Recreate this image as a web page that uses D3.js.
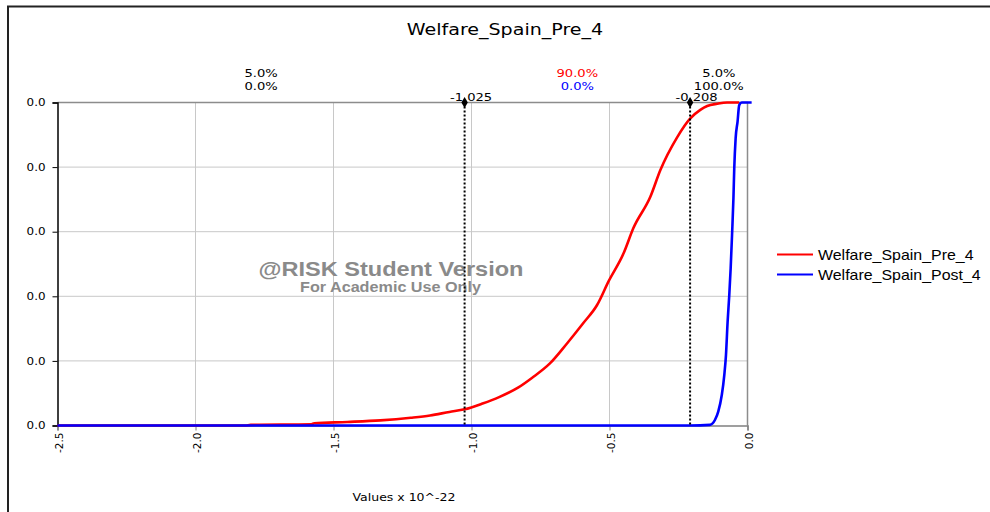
<!DOCTYPE html>
<html><head><meta charset="utf-8">
<script src="https://cdn.jsdelivr.net/npm/d3@7"></script>
<style>body{margin:0;background:#fff;overflow:hidden}</style>
</head><body><svg id="c" width="990" height="512"></svg>
<script>
const chartTitle = "Welfare_Spain_Pre_4";
const seriesNames = ["Welfare_Spain_Pre_4", "Welfare_Spain_Post_4"];
const seriesColors = ["#ff0000", "#0000ff"];
const preValues = [-2.5,-1.82,-1.80,-1.58,-1.57,-1.45,-1.33,-1.22,-1.15,-1.08,-1.025,-0.96,-0.90,-0.83,-0.78,-0.715,-0.654,-0.594,-0.545,-0.503,-0.449,-0.413,-0.352,-0.316,-0.255,-0.208,-0.171,-0.146,-0.11,-0.074,-0.03];
const preProbs  = [0,0,0.002,0.004,0.007,0.011,0.016,0.024,0.031,0.042,0.05,0.068,0.088,0.118,0.148,0.193,0.254,0.318,0.373,0.447,0.533,0.612,0.708,0.79,0.892,0.95,0.977,0.989,0.996,1.0,1.0];
const postValues = [-2.5,-0.208,-0.136,-0.118,-0.106,-0.093,-0.084,-0.078,-0.072,-0.066,-0.061,-0.056,-0.051,-0.048,-0.043,-0.036,-0.030,-0.021,0.015];
const postProbs  = [0,0,0.002,0.017,0.043,0.095,0.157,0.218,0.322,0.404,0.487,0.59,0.703,0.796,0.889,0.941,0.992,1.0,1.0];
const xTicks = [-2.5,-2.0,-1.5,-1.0,-0.5,0.0];
const xTickLabels = ["-2.5","-2.0","-1.5","-1.0","-0.5","0.0"];
const yTicks = [0,0.2,0.4,0.6,0.8,1.0];
const yTickLabels = ["0.0","0.0","0.0","0.0","0.0","0.0"];
const markerValues = [-1.025,-0.208];
const markerLabels = ["-1.025","-0.208"];
const regionTop = ["5.0%","90.0%","5.0%"];
const regionBottom = ["0.0%","0.0%","100.0%"];
const regionTopColors = ["#000000","#ff0000","#000000"];
const regionBottomColors = ["#000000","#0000ff","#000000"];
const axisTitle = "Values x 10^-22";
const watermark = ["@RISK Student Version","For Academic Use Only"];

const K = 1.19; // horizontal stretch of text
function stretch(sel, k){
  sel.each(function(){
    const w = this.getComputedTextLength();
    this.setAttribute("textLength", w*k);
    this.setAttribute("lengthAdjust","spacingAndGlyphs");
  });
}
function fixLen(sel, w){
  sel.attr("textLength", w).attr("lengthAdjust","spacingAndGlyphs");
}

const svg = d3.select("#c");
const L = 57.5, R = 747.5, T = 102.5, B = 425.5;
const x = d3.scaleLinear().domain([-2.5, 0]).range([L, R]);
const y = d3.scaleLinear().domain([0, 1]).range([B, T]);
const F = "'DejaVu Sans', Verdana, sans-serif";

// frame
svg.append("path").attr("d", `M8,512 L8,6.5 L990,6.5`).attr("fill","none").attr("stroke","#222").attr("stroke-width",2);

// title
svg.append("text").attr("x",505).attr("y",35).attr("text-anchor","middle")
  .style("font-family",F).style("font-size","16px").attr("fill","#000").text(chartTitle).call(stretch, K);

// gridlines
const g = svg.append("g");
g.selectAll(".vg").data(xTicks.slice(1,-1)).enter().append("line")
  .attr("x1",d=>x(d)).attr("x2",d=>x(d)).attr("y1",T).attr("y2",B)
  .attr("stroke","#c8c8c8").attr("stroke-width",1);
g.selectAll(".hg").data(yTicks.slice(1,-1)).enter().append("line")
  .attr("x1",L).attr("x2",R).attr("y1",d=>y(d)).attr("y2",d=>y(d))
  .attr("stroke","#c8c8c8").attr("stroke-width",1);
// plot border top/right
svg.append("path").attr("d",`M${L},${T} L${R},${T} L${R},${B}`).attr("fill","none").attr("stroke","#8c8c8c").attr("stroke-width",1.5);

// x axis
const xAxis = svg.append("g").attr("transform",`translate(0,${B})`)
  .call(d3.axisBottom(x).tickValues(xTicks).tickSize(5).tickFormat((d,i)=>xTickLabels[i]));
xAxis.select(".domain").attr("stroke","#808080").attr("stroke-width",1.5);
xAxis.selectAll(".tick line").attr("stroke","#808080");
xAxis.selectAll(".tick text")
  .style("font-family",F).style("font-size","10.5px").attr("fill","#000")
  .attr("transform","rotate(-90)").attr("text-anchor","end")
  .attr("x",-7).attr("y",1).attr("dy","0.35em");

// y axis
const yAxis = svg.append("g").attr("transform",`translate(${L},0)`)
  .call(d3.axisLeft(y).tickValues(yTicks).tickSize(5).tickPadding(7).tickFormat((d,i)=>yTickLabels[i]));
yAxis.select(".domain").attr("stroke","#000").attr("stroke-width",1.5);
yAxis.selectAll(".tick line").attr("stroke","#000");
yAxis.selectAll(".tick text").style("font-family",F).style("font-size","10px").attr("fill","#000").call(stretch, K);

// watermark
svg.append("text").attr("x",391).attr("y",275.5).attr("text-anchor","middle")
  .style("font-family","'Liberation Sans', Arial, sans-serif").style("font-weight","bold").style("font-size","20px")
  .attr("fill","#8a8a8a").text(watermark[0]).call(fixLen, 265);
svg.append("text").attr("x",390.5).attr("y",292).attr("text-anchor","middle")
  .style("font-family","'Liberation Sans', Arial, sans-serif").style("font-weight","bold").style("font-size","14px")
  .attr("fill","#8a8a8a").text(watermark[1]).call(fixLen, 181);

// curves
const line = d3.line().x(d=>x(d[0])).y(d=>y(d[1])).curve(d3.curveMonotoneX);
const pre = preValues.map((v,i)=>[v, preProbs[i]]);
const post = postValues.map((v,i)=>[v, postProbs[i]]);
svg.append("path").datum(pre).attr("d",line).attr("fill","none").attr("stroke",seriesColors[0]).attr("stroke-width",2.6).attr("stroke-linejoin","round");
svg.append("path").datum(post).attr("d",line).attr("fill","none").attr("stroke",seriesColors[1]).attr("stroke-width",2.6).attr("stroke-linejoin","round");

// markers
svg.selectAll(".mk").data(markerValues).enter().append("line")
  .attr("x1",d=>x(d)).attr("x2",d=>x(d)).attr("y1",T).attr("y2",B)
  .attr("stroke","#000").attr("stroke-width",2).attr("stroke-dasharray","2,2");
svg.selectAll(".dm").data(markerValues).enter().append("path")
  .attr("transform",d=>`translate(${x(d)},${T})`)
  .attr("d", d3.symbol().type(d3.symbolDiamond).size(36)).attr("fill","#000");
svg.selectAll(".ml").data(markerValues).enter().append("text")
  .attr("x",d=>x(d)+6.5).attr("y",100.5).attr("text-anchor","middle")
  .style("font-family",F).style("font-size","11px").attr("fill","#000")
  .text((d,i)=>markerLabels[i]).call(stretch, K);

// region percentages
const bounds = [-2.5, ...markerValues, 0];
const centers = regionTop.map((d,i)=>(x(bounds[i])+x(bounds[i+1]))/2);
svg.selectAll(".rt").data(regionTop).enter().append("text")
  .attr("x",(d,i)=>centers[i]).attr("y",76.5).attr("text-anchor","middle")
  .style("font-family",F).style("font-size","11px").attr("fill",(d,i)=>regionTopColors[i]).text(d=>d).call(stretch, K);
svg.selectAll(".rb").data(regionBottom).enter().append("text")
  .attr("x",(d,i)=>centers[i]).attr("y",90).attr("text-anchor","middle")
  .style("font-family",F).style("font-size","11px").attr("fill",(d,i)=>regionBottomColors[i]).text(d=>d).call(stretch, K);

// axis title
svg.append("text").attr("x",404).attr("y",501).attr("text-anchor","middle")
  .style("font-family",F).style("font-size","10.5px").attr("fill","#000").text(axisTitle).call(stretch, K);

// legend
const lg = svg.append("g");
seriesNames.forEach((n,i)=>{
  const yy = 254.5 + i*20;
  lg.append("line").attr("x1",777).attr("x2",813).attr("y1",yy).attr("y2",yy).attr("stroke",seriesColors[i]).attr("stroke-width",2.2);
  lg.append("text").attr("x",818).attr("y",yy+5.5)
    .style("font-family","'Liberation Sans', Arial, sans-serif").style("font-size","15px").attr("fill","#000")
    .text(n).call(stretch, 1.062);
});
</script></body></html>
